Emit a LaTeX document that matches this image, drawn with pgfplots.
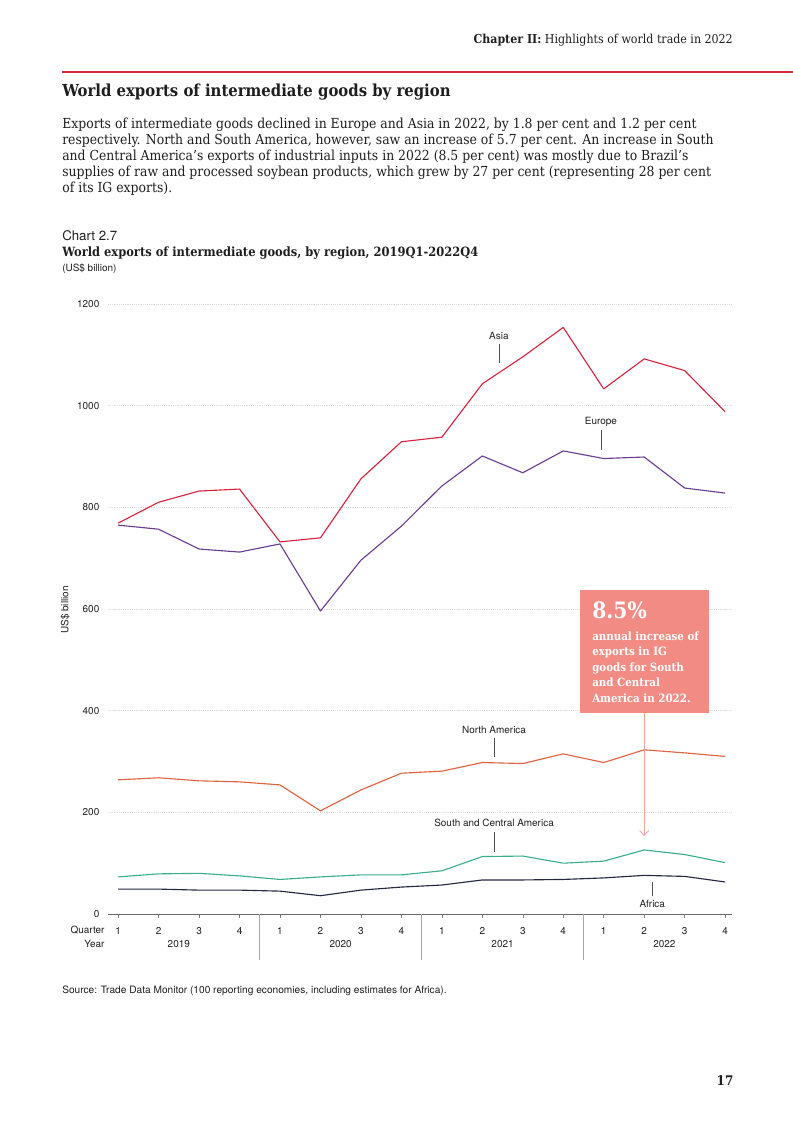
\documentclass[border=0pt]{standalone}
\usepackage{fontspec}
\setmainfont{DejaVu Serif Condensed}
\setsansfont{TeX Gyre Heros}
\usepackage{pgfplots}
\pgfplotsset{compat=1.18}
\usetikzlibrary{arrows.meta}

\definecolor{asia}{HTML}{D6243F}
\definecolor{europe}{HTML}{6A3D8F}
\definecolor{namer}{HTML}{E2623E}
\definecolor{scam}{HTML}{3AAE8C}
\definecolor{africa}{HTML}{262842}
\definecolor{boxc}{HTML}{F18B83}
\definecolor{arrowc}{HTML}{F4A6A0}
\definecolor{headred}{HTML}{D7263D}
\definecolor{ink}{HTML}{1E1E1E}

\begin{document}
\begin{tikzpicture}
\path[use as bounding box] (0,0) rectangle (594.75bp,-841.5bp);
\begin{scope}[x=0.75bp,y=-0.75bp,every node/.style={inner sep=0,text=ink}]
  % page header
  \node[anchor=base east] at (733,43) {\fontsize{9.25}{11}\selectfont\textbf{Chapter II:} Highlights of world trade in 2022};
  \draw[headred,line width=1.1bp] (62,72) -- (793,72);
  \node[anchor=base west] at (62,96) {\fontsize{12.45}{15}\selectfont\bfseries World exports of intermediate goods by region};
  % paragraph
  \begin{scope}[every node/.append style={anchor=base west,font=\fontsize{10.4}{12}\selectfont}]
    \node at (62,128) {Exports of intermediate goods declined in Europe and Asia in 2022, by 1.8 per cent and 1.2 per cent};
    \node at (62,144) {respectively. North and South America, however, saw an increase of 5.7 per cent. An increase in South};
    \node at (62,160) {and Central America’s exports of industrial inputs in 2022 (8.5 per cent) was mostly due to Brazil’s};
    \node at (62,176) {supplies of raw and processed soybean products, which grew by 27 per cent (representing 28 per cent};
    \node at (62,192) {of its IG exports).};
  \end{scope}
  % chart heading
  \node[anchor=base west] at (62,240) {\sffamily\fontsize{10}{12}\selectfont Chart 2.7};
  \node[anchor=base west] at (62,256) {\fontsize{9.6}{12}\selectfont\bfseries World exports of intermediate goods, by region, 2019Q1-2022Q4};
  \node[anchor=base west] at (62,271) {\sffamily\fontsize{7.5}{9}\selectfont (US\$ billion)};
  % source and page number
  \node[anchor=base west] at (62,993) {\sffamily\fontsize{7.64}{9}\selectfont Source: Trade Data Monitor (100 reporting economies, including estimates for Africa).};
  \node[anchor=base] at (725,1085) {\fontsize{10}{12}\selectfont\bfseries 17};
\end{scope}

\begin{axis}[
  at={(81bp,-685.5bp)}, anchor=south west,
  scale only axis, width=468bp, height=457.5bp,
  xmin=-0.25, xmax=15.17, ymin=0, ymax=1200,
  ytick={0,200,...,1200},
  xtick={0,...,15},
  xticklabels={1,2,3,4,1,2,3,4,1,2,3,4,1,2,3,4},
  axis x line*=bottom, axis y line*=left,
  x axis line style={-, draw=black!60, line width=0.5pt},
  y axis line style={draw=none},
  tick align=outside, major tick length=3bp,
  xtick style={draw=black!50, line width=0.4pt},
  ytick style={draw=none},
  ymajorgrids,
  grid style={densely dotted, black!14, line width=0.4pt},
  tick label style={font=\sffamily\fontsize{7.5}{9}\selectfont, text=ink},
  xticklabel style={yshift=-3.5bp},
  /pgf/number format/assume math mode=true,
  /pgf/number format/1000 sep={},
  clip=false,
  every axis plot/.append style={line width=0.85pt, mark=none, line join=round},
]
\addplot[asia] coordinates {(0,769) (1,810) (2,832) (3,836) (4,732) (5,740) (6,856) (7,929) (8,938) (9,1043) (10,1096) (11,1154) (12,1033) (13,1092) (14,1069) (15,988)};
\addplot[europe] coordinates {(0,765) (1,757) (2,718) (3,712) (4,728) (5,596) (6,696) (7,763) (8,842) (9,901) (10,868) (11,911) (12,896) (13,899) (14,838) (15,828)};
\addplot[namer] coordinates {(0,264) (1,268) (2,262) (3,260) (4,254) (5,203) (6,244) (7,277) (8,281) (9,298) (10,296) (11,315) (12,298) (13,323) (14,317) (15,310)};
\addplot[scam] coordinates {(0,73) (1,79) (2,80) (3,75) (4,68) (5,73) (6,77) (7,77) (8,85) (9,113) (10,114) (11,100) (12,104) (13,126) (14,117) (15,101)};
\addplot[africa] coordinates {(0,49) (1,49) (2,47) (3,47) (4,45) (5,36) (6,47) (7,53) (8,57) (9,67) (10,67) (11,68) (12,71) (13,76) (14,74) (15,63)};

% series labels
\tikzset{lab/.style={font=\sffamily\fontsize{7.5}{9}\selectfont, text=ink, inner sep=0},
         leader/.style={draw=black!70, line width=0.45pt}}
\node[lab] at (axis cs:9.41,1137) {Asia};
\draw[leader] (axis cs:9.41,1121) -- (axis cs:9.41,1084);
\node[lab] at (axis cs:11.93,968) {Europe};
\draw[leader] (axis cs:11.93,952) -- (axis cs:11.93,913);
\node[lab] at (axis cs:9.29,362) {North America};
\draw[leader] (axis cs:9.29,346) -- (axis cs:9.29,309);
\node[lab] at (axis cs:9.29,179) {South and Central America};
\draw[leader] (axis cs:9.29,161) -- (axis cs:9.29,122);
\node[lab] at (axis cs:13.2,20) {Africa};
\draw[leader] (axis cs:13.2,63) -- (axis cs:13.2,35);

% y label, quarter/year rows
\node[lab, rotate=90] at (axis cs:-1.31,598) {US\$ billion};
\node[lab, anchor=east] at (axis cs:-0.33,-31.5) {Quarter};
\node[lab, anchor=east] at (axis cs:-0.33,-59) {Year};
\node[lab] at (axis cs:1.5,-59) {2019};
\node[lab] at (axis cs:5.5,-59) {2020};
\node[lab] at (axis cs:9.5,-59) {2021};
\node[lab] at (axis cs:13.5,-59) {2022};
\draw[black!35, line width=0.4pt] (axis cs:3.5,0) -- (axis cs:3.5,-90);
\draw[black!35, line width=0.4pt] (axis cs:7.5,0) -- (axis cs:7.5,-90);
\draw[black!35, line width=0.4pt] (axis cs:11.5,0) -- (axis cs:11.5,-90);

% callout
\fill[boxc] (axis cs:11.42,395.4) rectangle (axis cs:14.60,637);
\draw[arrowc, line width=0.6pt, -{Straight Barb[length=4bp,width=7bp]}] (axis cs:13,395.4) -- (axis cs:13,153);
\begin{scope}[every node/.style={anchor=base west, inner sep=0, text=white, font=\fontsize{8.6}{10}\selectfont\bfseries}]
  \node[font=\fontsize{17}{19}\selectfont\bfseries] at (axis cs:11.71,582) {8.5\%};
  \node at (axis cs:11.71,539) {annual increase of};
  \node at (axis cs:11.71,507.6) {exports in IG};
  \node at (axis cs:11.71,478) {goods for South};
  \node at (axis cs:11.71,446.6) {and Central};
  \node at (axis cs:11.71,417) {America in 2022.};
\end{scope}
\end{axis}
\end{tikzpicture}
\end{document}
